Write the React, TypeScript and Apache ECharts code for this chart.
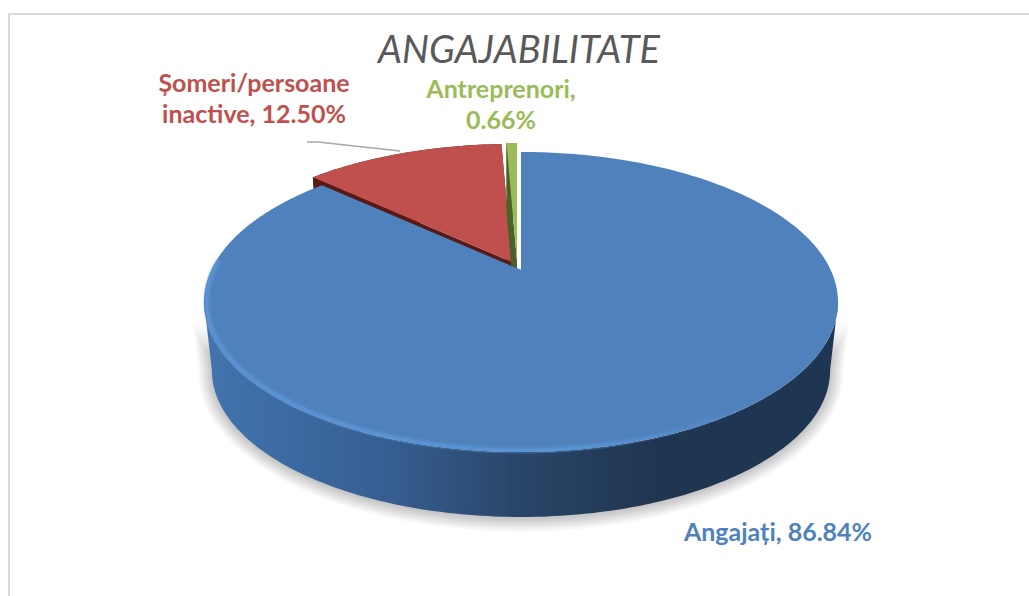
import React, { useEffect, useRef } from "react";
import * as echarts from "echarts";

const titleText = "ANGAJABILITATE";
const categories = ["Angajați", "Șomeri/persoane inactive", "Antreprenori"];
const shares = [86.84, 12.5, 0.66];
const colors = ["#4f81bd", "#c0504d", "#9bbb59"];
const wallColors = ["#1f3550", "#581917", "#4a6229"];

const k = 0.2133;
const R = 309.7;
const H = 143.2;
const CX = 521;
const CY = 270;
const BASE_DY = 69.5;
const BASE_S = 0.975;
const TAN_R = 102.3;
const TAN_L = 257.7;
const offsets = [[0, 0], [-9, -8], [-4, -9]];
const total = shares.reduce((a, b) => a + b, 0);

function pt(deg: number, base: boolean, ox = 0, oy = 0, r = 1): number[] {
  const t = (deg * Math.PI) / 180;
  const u = Math.sin(t) * r;
  const v = Math.cos(t) * r;
  const d = 1 + k * v;
  const s = base ? BASE_S : 1;
  return [CX + ox + (s * R * u) / d, CY + oy + (base ? BASE_DY : 0) - (s * H * v) / d];
}

function arc(a0: number, a1: number, base: boolean, ox = 0, oy = 0, r = 1): number[][] {
  const n = Math.max(4, Math.ceil(Math.abs(a1 - a0)));
  const out: number[][] = [];
  for (let i = 0; i <= n; i++) out.push(pt(a0 + ((a1 - a0) * i) / n, base, ox, oy, r));
  return out;
}

function renderSlice(params: any, api: any) {
  const i = params.dataIndex;
  const before = shares.slice(0, i).reduce((a, b) => a + b, 0);
  const a0 = (before / total) * 360;
  const a1 = ((before + api.value(0)) / total) * 360;
  const [ox, oy] = offsets[i];
  const apexT = pt(0, false, ox, oy, 0);
  const apexB = pt(0, true, ox, oy, 0);
  const z = i === 0 ? 20 : i === 1 ? 5 : 10;
  const children: any[] = [];
  const poly = (points: number[][], style: any, z2: number) => ({
    type: "polygon",
    z2,
    shape: { points },
    style,
    silent: true,
  });
  if (i === 0) {
    const strip = arc(TAN_R, TAN_L, true).concat(arc(TAN_L, TAN_R, false));
    for (let e = 14; e >= 1; e--) {
      const grown = strip.map(([x, y]) => [
        CX + (x - CX) * (1 + e / 320),
        345 + (y - 345) * (1 + e / 172) + 1,
      ]);
      children.push(poly(grown, { fill: "rgba(0,0,0,0.015)" }, 1));
    }
    children.push(
      poly(strip, {
        fill: new echarts.graphic.LinearGradient(0, 0, 1, 0, [
          { offset: 0, color: "#4274ae" },
          { offset: 0.12, color: "#3d6ba3" },
          { offset: 0.3, color: "#365d90" },
          { offset: 0.5, color: "#294568" },
          { offset: 0.72, color: "#1f3550" },
          { offset: 1, color: "#1f3652" },
        ]),
      }, z),
    );
  } else {
    const wall = arc(a0, a1, false, ox, oy).concat(arc(a0, a1, true, ox, oy).reverse());
    children.push(poly(wall, { fill: wallColors[i] }, z));
  }
  children.push(
    poly([apexT, pt(a0, false, ox, oy), pt(a0, true, ox, oy), apexB], { fill: wallColors[i] }, z + 1),
    poly([apexT, pt(a1, false, ox, oy), pt(a1, true, ox, oy), apexB], { fill: wallColors[i] }, z + 1),
  );
  children.push(poly([apexT].concat(arc(a0, a1, false, ox, oy)), { fill: colors[i] }, z + 2));
  if (i === 0) {
    const rimStroke = new echarts.graphic.LinearGradient(0, 0, 1, 0, [
      { offset: 0, color: "#5c97d8" },
      { offset: 0.65, color: "#5c97d8" },
      { offset: 1, color: "rgba(92,151,216,0)" },
    ]);
    const rim = arc(140, 274, false, 0, 0, 0.992);
    children.push({
      type: "polyline",
      z2: z + 3,
      silent: true,
      shape: { points: rim },
      style: { fill: "none", stroke: rimStroke, lineWidth: 7, opacity: 0.3 },
    });
    children.push({
      type: "polyline",
      z2: z + 4,
      silent: true,
      shape: { points: rim },
      style: { fill: "none", stroke: rimStroke, lineWidth: 3, opacity: 0.7 },
    });
  }
  return { type: "group", children };
}

const pct = (v: number) => v.toFixed(2) + "%";
const labelFont = { fontFamily: "Lato, Carlito, sans-serif", fontWeight: "bold" as const, fontSize: 25 };

export default function App() {
  const ref = useRef<HTMLDivElement>(null);
  useEffect(() => {
    document.body.style.margin = "0";
    const chart = echarts.init(ref.current!, undefined, { renderer: "svg" });
    chart.setOption({
      animation: false,
      backgroundColor: "#ffffff",
      title: {
        text: titleText,
        left: 514,
        top: 24,
        textAlign: "center",
        textStyle: {
          fontFamily: "Lato, Carlito, sans-serif",
          fontStyle: "italic",
          fontWeight: 400,
          fontSize: 38,
          color: "#595959",
        },
      },
      series: [
        {
          type: "custom",
          coordinateSystem: "none",
          renderItem: renderSlice,
          data: shares.map((v) => [v]),
          silent: true,
        },
      ],
      graphic: [
        { type: "rect", silent: true, shape: { x: 8, y: 13, width: 2, height: 583 }, style: { fill: "#d9d9d9" } },
        { type: "rect", silent: true, shape: { x: 8, y: 13, width: 1021, height: 2 }, style: { fill: "#d9d9d9" } },
        {
          type: "polyline",
          silent: true,
          shape: { points: [[307, 142], [318, 142], [400, 151]] },
          style: { fill: "none", stroke: "#a6a6a6", lineWidth: 1.5 },
        },
        {
          type: "text",
          x: 254,
          y: 97,
          silent: true,
          style: {
            text: "Șomeri/persoane\ninactive, " + pct(shares[1]),
            align: "center",
            verticalAlign: "middle",
            lineHeight: 31,
            fill: colors[1],
            ...labelFont,
          },
        },
        {
          type: "text",
          x: 501,
          y: 103,
          silent: true,
          style: {
            text: categories[2] + ",\n" + pct(shares[2]),
            align: "center",
            verticalAlign: "middle",
            lineHeight: 31,
            fill: colors[2],
            ...labelFont,
          },
        },
        {
          type: "text",
          x: 778,
          y: 531,
          silent: true,
          style: {
            text: categories[0] + ", " + pct(shares[0]),
            align: "center",
            verticalAlign: "middle",
            fill: colors[0],
            ...labelFont,
          },
        },
      ],
    });
    return () => chart.dispose();
  }, []);
  return <div ref={ref} style={{ width: 1029, height: 596 }} />;
}
